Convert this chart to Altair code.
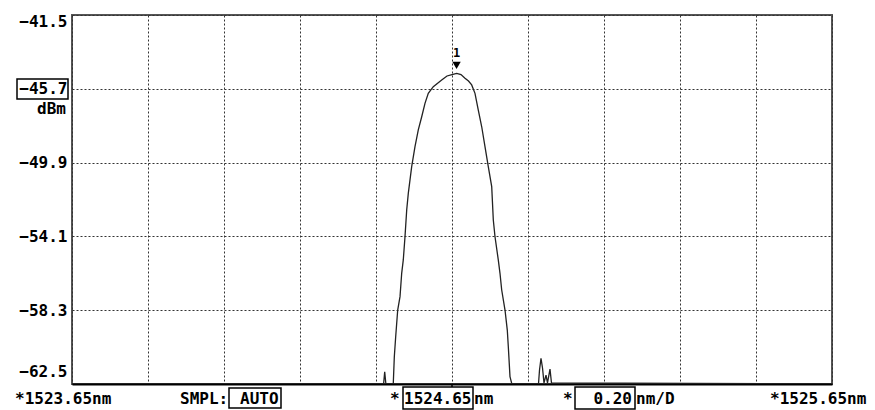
import altair as alt
import pandas as pd

# ---- data (OSA screenshot) ----
wavelength_nm = [
    1523.65, 1524.470, 1524.4729, 1524.476, 1524.4955, 1524.4982, 1524.5018,
    1524.5071, 1524.5132, 1524.5176, 1524.5218, 1524.5263, 1524.5308,
    1524.5350, 1524.5439, 1524.5526, 1524.5613, 1524.5703, 1524.5789,
    1524.5876, 1524.6008, 1524.6229, 1524.6368, 1524.6500, 1524.6624,
    1524.6737, 1524.6842, 1524.6934, 1524.7018, 1524.7105, 1524.7192,
    1524.7282, 1524.7368, 1524.7455, 1524.7545, 1524.7587, 1524.7632,
    1524.7718, 1524.7763, 1524.7808, 1524.7895, 1524.7955, 1524.7982,
    1524.8026, 1524.8071, 1524.8776, 1524.8803, 1524.8842, 1524.8882,
    1524.8921, 1524.8974, 1524.9013, 1524.9079, 1524.9118, 1525.65,
]
power_dbm = [
    -62.5, -62.5, -61.80, -62.5, -62.46, -60.95, -59.81,
    -58.29, -57.53, -56.20, -55.44, -54.12, -52.60,
    -51.65, -50.13, -48.99, -48.04, -47.29, -46.53,
    -45.96, -45.58, -45.20, -44.97, -44.89, -44.82,
    -44.89, -45.10, -45.26, -45.48, -45.96, -46.91,
    -47.86, -48.99, -50.13, -51.27, -53.17, -54.12,
    -55.44, -56.20, -57.15, -58.29, -59.43, -60.38,
    -62.08, -62.46, -62.5, -61.70, -61.04, -61.59,
    -62.44, -61.99, -62.44, -61.65, -62.44, -62.5,
]
x_grid = [1523.65, 1523.85, 1524.05, 1524.25, 1524.45, 1524.65,
          1524.85, 1525.05, 1525.25, 1525.45, 1525.65]
y_grid = [-41.5, -43.6, -45.7, -47.8, -49.9, -52.0,
          -54.1, -56.2, -58.3, -60.4, -62.5]
y_labels = [-41.5, -45.7, -49.9, -54.1, -58.3, -62.5]
marker_wl = [1524.662]
marker_dbm = [-44.82]
marker_text = ["1"]

FONT = "DejaVu Sans Mono"
W, H = 760, 369

df = pd.DataFrame({"wl": wavelength_nm, "dbm": power_dbm})
mk = pd.DataFrame({"wl": marker_wl, "dbm": marker_dbm, "t": marker_text})

xscale = alt.Scale(domain=[x_grid[0], x_grid[-1]], nice=False, zero=False)
yscale = alt.Scale(domain=[y_grid[-1], y_grid[0]], nice=False, zero=False)

label_list_all = "[" + ",".join(str(v) for v in y_labels) + "]"

xaxis = alt.Axis(values=x_grid, grid=True, gridDash=[2, 2], gridColor="#333",
                 gridWidth=1, labels=False, ticks=False, title=None,
                 domainColor="black", domainWidth=2)
yaxis = alt.Axis(values=y_grid, grid=True, gridDash=[2, 2], gridColor="#333",
                 gridWidth=1, ticks=False, title=None, domain=False,
                 labelExpr="indexof(" + label_list_all + ", datum.value) >= 0 ? format(datum.value, '.1f') : ''",
                 labelFont=FONT, labelFontSize=16, labelFontWeight="bold",
                 labelColor="black", labelPadding=5, labelFlush=False,
                 labelBaseline="middle",
                 labelOffset={"condition": [
                     {"test": "datum.value == " + str(y_labels[-1]), "value": -13},
                     {"test": "datum.value == " + str(y_labels[0]), "value": 6}],
                     "value": 0})

line = alt.Chart(df).mark_line(color="#222", strokeWidth=1.3, clip=True).encode(
    x=alt.X("wl:Q", scale=xscale, axis=xaxis),
    y=alt.Y("dbm:Q", scale=yscale, axis=yaxis),
)

tri = alt.Chart(mk).mark_point(shape="triangle-down", filled=True, color="black",
                               size=70, yOffset=-8, opacity=1).encode(
    x=alt.X("wl:Q", scale=xscale), y=alt.Y("dbm:Q", scale=yscale))
tri_t = alt.Chart(mk).mark_text(font=FONT, fontSize=12, fontWeight="bold",
                                dy=-20, color="black").encode(
    x=alt.X("wl:Q", scale=xscale), y=alt.Y("dbm:Q", scale=yscale), text="t:N")

layers = [line, tri, tri_t]

ty = H + 15
def txt(s, x, align="left", y=ty):
    return alt.Chart(mk).mark_text(text=s, font=FONT, fontSize=16, fontWeight="bold",
                                   align=align, baseline="middle", color="black").encode(
        x=alt.value(x), y=alt.value(y))

def box(x1, x2, y1, y2):
    return alt.Chart(mk).mark_rect(fill=None, stroke="black", strokeWidth=1.5).encode(
        x=alt.value(x1), x2=alt.value(x2), y=alt.value(y1), y2=alt.value(y2))

layers += [
    txt("*1523.65nm", -57),
    txt("SMPL:", 108),
    box(157, 209, H + 4, H + 24), txt("AUTO", 168),
    txt("*", 318),
    box(331, 401, H + 3, H + 25), txt("1524.65", 332), txt("nm", 402),
    txt("*", 491),
    box(503, 563, H + 3, H + 25), txt("0.20", 560, align="right"), txt("nm/D", 564),
    txt("*1525.65nm", 698),
    box(-55, -4, 64, 84),
    txt("dBm", -6, align="right", y=94),
    alt.Chart(mk).mark_rule(color="black", strokeWidth=1.5).encode(
        x=alt.value(380), y=alt.value(H), y2=alt.value(H + 3)),
]

chart = alt.layer(*layers).properties(
    width=W, height=H,
    autosize=alt.AutoSizeParams(type="none"),
    padding={"left": 64, "top": 7, "right": 35, "bottom": 26},
    background="white",
).configure_view(stroke="#555", strokeWidth=2)

chart.save("out.html", embed_options={"renderer": "svg", "actions": False})
